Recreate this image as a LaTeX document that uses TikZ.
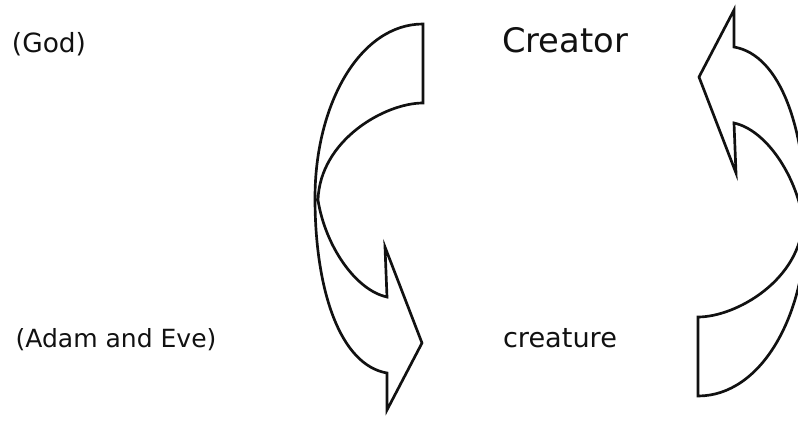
\documentclass[tikz,border=0pt]{standalone}
\usepackage{fontspec}
\setmainfont{DejaVu Sans}
\usetikzlibrary{positioning}
\definecolor{inkBlack}{HTML}{111111}
\tikzset{
  bentArrow/.style={draw=inkBlack, fill=white, line width=1.9pt, line join=miter},
  wordSmall/.style={text=inkBlack, inner sep=0pt, font=\fontsize{17.8}{21}\selectfont},
  wordBig/.style={text=inkBlack, inner sep=0pt, font=\fontsize{24}{28}\selectfont},
}

\begin{document}
\begin{tikzpicture}[x=0.025cm, y=-0.025cm]
    \useasboundingbox (0,0) rectangle (798,421);
    \clip (0,0) rectangle (798,421);
    % labels
    \node[wordSmall, font=\fontsize{18.8}{22}\selectfont] (god) at (49,44) {(God)};
    \node[wordSmall] (adam) at (116,340) {(Adam and Eve)};
    \node[wordBig] (creator) at (565,40) {Creator};
    \node[wordSmall, font=\fontsize{19.3}{22}\selectfont] (creature) at (560,338) {creature};
    % arrow going down
    \draw[bentArrow] (423,24) -- (423,103)
        .. controls (385,103) and (320,140) .. (318,200)
        .. controls (325,245) and (355,290) .. (387,297)
        -- (385,247) -- (422,343) -- (387,410) -- (387,373)
        .. controls (340,365) and (315,290) .. (315,198)
        .. controls (315,104) and (360,24) .. cycle;
    % arrow going up (same shape turned round)
    \begin{scope}[rotate around={180:(560.5,210)}]
    \draw[bentArrow] (423,24) -- (423,103)
        .. controls (385,103) and (320,140) .. (318,200)
        .. controls (325,245) and (355,290) .. (387,297)
        -- (385,247) -- (422,343) -- (387,410) -- (387,373)
        .. controls (340,365) and (315,290) .. (315,198)
        .. controls (315,104) and (360,24) .. cycle;
    \end{scope}
\end{tikzpicture}
\end{document}
